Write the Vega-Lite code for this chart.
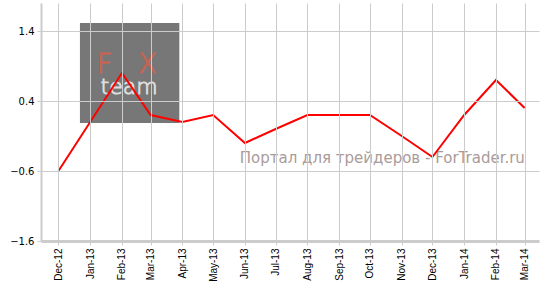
{
  "$schema": "https://vega.github.io/schema/vega-lite/v6.json",
  "autosize": {"type": "none"},
  "width": 498,
  "height": 238,
  "padding": {"left": 41, "top": 3, "right": 16, "bottom": 56},
  "background": "white",
  "config": {"view": {"stroke": null}},
  "data": {"values": [
    {"month": "2012-12-01", "value": -0.6},
    {"month": "2013-01-01", "value": 0.1},
    {"month": "2013-02-01", "value": 0.8},
    {"month": "2013-03-01", "value": 0.2},
    {"month": "2013-04-01", "value": 0.1},
    {"month": "2013-05-01", "value": 0.2},
    {"month": "2013-06-01", "value": -0.2},
    {"month": "2013-07-01", "value": 0.0},
    {"month": "2013-08-01", "value": 0.2},
    {"month": "2013-09-01", "value": 0.2},
    {"month": "2013-10-01", "value": 0.2},
    {"month": "2013-11-01", "value": -0.1},
    {"month": "2013-12-01", "value": -0.4},
    {"month": "2014-01-01", "value": 0.2},
    {"month": "2014-02-01", "value": 0.7},
    {"month": "2014-03-01", "value": 0.3}
  ]},
  "layer": [
    {
      "data": {"values": [{}]},
      "mark": {"type": "rect", "color": "#777777"},
      "encoding": {
        "x": {"datum": {"year": 2012, "month": 12, "date": 22, "utc": true}, "type": "temporal"},
        "x2": {"datum": {"year": 2013, "month": 3, "date": 29, "utc": true}},
        "y": {"datum": 1.514, "type": "quantitative"},
        "y2": {"datum": 0.086}
      }
    },
    {
      "data": {"values": [{}]},
      "mark": {"type": "text", "text": "F", "font": "DejaVu Sans", "fontSize": 27, "fontWeight": 300, "fill": "transparent", "stroke": "#d0624f", "strokeWidth": 1, "align": "center", "baseline": "alphabetic"},
      "encoding": {
        "x": {"datum": {"year": 2013, "month": 1, "date": 15, "utc": true}, "type": "temporal"},
        "y": {"datum": 0.8, "type": "quantitative"}
      }
    },
    {
      "data": {"values": [{}]},
      "mark": {"type": "text", "text": "X", "font": "DejaVu Sans", "fontSize": 27, "fontWeight": 300, "fill": "transparent", "stroke": "#d0624f", "strokeWidth": 1, "align": "center", "baseline": "alphabetic"},
      "encoding": {
        "x": {"datum": {"year": 2013, "month": 2, "date": 26, "utc": true}, "type": "temporal"},
        "y": {"datum": 0.8, "type": "quantitative"}
      }
    },
    {
      "data": {"values": [{}]},
      "mark": {"type": "text", "text": "team", "font": "DejaVu Sans", "fontSize": 22, "fontWeight": 300, "fill": "transparent", "stroke": "#dddddd", "strokeWidth": 1, "align": "center", "baseline": "alphabetic"},
      "encoding": {
        "x": {"datum": {"year": 2013, "month": 2, "date": 8, "utc": true}, "type": "temporal"},
        "y": {"datum": 0.5, "type": "quantitative"}
      }
    },
    {
      "data": {"values": [{}]},
      "mark": {"type": "text", "text": "Портал для трейдеров - ForTrader.ru", "font": "DejaVu Sans", "fontSize": 15, "color": "#aa9b99", "align": "left", "baseline": "alphabetic"},
      "encoding": {
        "x": {"datum": {"year": 2013, "month": 5, "date": 27, "utc": true}, "type": "temporal"},
        "y": {"datum": -0.486, "type": "quantitative"}
      }
    },
    {
      "mark": {"type": "line", "color": "#ff0000", "strokeWidth": 2},
      "encoding": {
        "x": {
          "field": "month", "type": "temporal",
          "scale": {"type": "utc", "domain": [{"year": 2012, "month": 11, "date": 14, "utc": true}, {"year": 2014, "month": 3, "date": 15, "utc": true}]},
          "axis": {
            "title": null, "format": "%b-%y",
            "tickCount": {"interval": "month", "step": 1},
            "labelAngle": 270, "labelFont": "Liberation Sans", "labelFontSize": 10, "labelColor": "#000000",
            "labelPadding": 3, "tickSize": 4, "tickColor": "#cccccc",
            "domainColor": "#cccccc", "domainWidth": 3,
            "grid": true, "gridColor": "#cccccc", "gridWidth": 1,
            "labelOverlap": false, "labelFlush": false, "zindex": 1
          }
        },
        "y": {
          "field": "value", "type": "quantitative",
          "scale": {"domain": [-1.6, 1.8], "nice": false, "zero": false},
          "axis": {
            "title": null, "values": [-1.6, -0.6, 0.4, 1.4], "format": ".1f",
            "labelFont": "DejaVu Sans", "labelFontSize": 10, "labelColor": "#000000",
            "labelPadding": 3, "tickSize": 4, "tickColor": "#cccccc",
            "domainColor": "#cccccc", "domainWidth": 2,
            "grid": true, "gridColor": "#cccccc", "gridWidth": 1, "zindex": 1
          }
        }
      }
    }
  ]
}
